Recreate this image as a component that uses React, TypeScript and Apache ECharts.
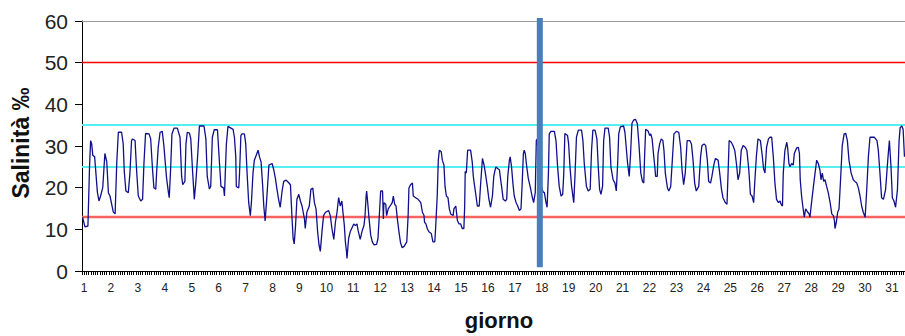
import React, { useEffect, useRef } from "react";
import * as echarts from "echarts";

// Salinity readings, [day of month, salinity ‰], grouped by stretches of days
const days01to06: [number, number][] = [
  [1.02, 12.9], [1.11, 10.6], [1.22, 10.8], [1.28, 25.0], [1.32, 31.3], [1.36, 30.5], [1.40, 27.8], [1.47, 27.4],
  [1.57, 19.0], [1.63, 16.8], [1.69, 18.0], [1.77, 20.0], [1.85, 28.2], [1.92, 26.2], [1.98, 18.8], [2.04, 18.0],
  [2.16, 14.2], [2.23, 13.7], [2.29, 25.9], [2.35, 33.3], [2.47, 33.3], [2.53, 30.5], [2.57, 23.9], [2.63, 19.2],
  [2.72, 18.8], [2.78, 23.5], [2.84, 31.3], [2.88, 31.7], [2.97, 31.3], [3.03, 23.9], [3.09, 18.0], [3.18, 16.8],
  [3.25, 17.2], [3.30, 25.8], [3.36, 33.0], [3.49, 32.9], [3.55, 31.7], [3.62, 24.3], [3.67, 20.0], [3.74, 19.6],
  [3.77, 23.5], [3.83, 29.7], [3.90, 33.3], [3.98, 33.5], [4.04, 30.1], [4.14, 22.3], [4.21, 18.8], [4.24, 17.6],
  [4.29, 24.3], [4.34, 32.9], [4.42, 34.3], [4.54, 34.3], [4.64, 32.1], [4.70, 22.7], [4.74, 20.7], [4.82, 21.5],
  [4.86, 30.5], [4.91, 33.3], [4.99, 33.1], [5.04, 31.7], [5.11, 23.5], [5.17, 17.2], [5.23, 21.5], [5.30, 28.2],
  [5.36, 34.8], [5.53, 34.8], [5.60, 31.7], [5.65, 22.7], [5.73, 19.7], [5.78, 20.3], [5.84, 32.1], [5.91, 33.9],
  [6.03, 33.9],
];

const days06to11: [number, number][] = [
  [6.11, 25.4], [6.16, 20.3], [6.26, 19.9], [6.29, 18.0], [6.36, 30.4], [6.42, 34.7], [6.53, 34.3], [6.61, 34.0],
  [6.66, 32.1], [6.71, 27.4], [6.73, 20.3], [6.82, 19.9], [6.85, 23.5], [6.90, 32.5], [6.94, 32.9], [7.03, 32.9],
  [7.08, 30.5], [7.13, 23.5], [7.19, 16.4], [7.25, 13.3], [7.29, 16.4], [7.35, 23.5], [7.40, 26.6], [7.47, 27.8],
  [7.54, 29.0], [7.59, 27.4], [7.65, 26.2], [7.71, 20.3], [7.75, 15.6], [7.80, 12.0], [7.85, 16.4], [7.89, 20.3],
  [7.94, 25.4], [8.06, 25.8], [8.12, 24.3], [8.18, 22.3], [8.24, 19.6], [8.30, 17.2], [8.36, 15.3], [8.43, 19.2],
  [8.49, 21.5], [8.58, 21.8], [8.66, 21.3], [8.74, 20.7], [8.80, 12.5], [8.84, 7.8], [8.88, 6.5], [8.93, 10.9],
  [8.98, 17.2], [9.05, 18.4], [9.11, 16.8], [9.17, 15.6], [9.26, 12.5], [9.29, 10.2], [9.35, 14.1], [9.44, 15.6],
  [9.50, 19.6], [9.57, 19.9], [9.63, 16.4], [9.69, 14.9], [9.75, 9.4], [9.80, 6.3], [9.85, 4.7], [9.91, 9.4],
  [9.97, 13.3], [10.04, 14.1], [10.16, 14.5], [10.22, 13.3], [10.28, 10.2], [10.35, 7.6], [10.41, 11.7], [10.47, 14.1],
  [10.53, 17.6], [10.59, 15.6], [10.65, 16.8], [10.69, 14.1], [10.74, 11.0], [10.78, 7.0], [10.82, 4.7], [10.84, 3.0],
  [10.90, 7.8], [10.96, 9.4], [11.09, 11.3], [11.15, 10.9], [11.21, 11.3],
];

const days11to16: [number, number][] = [
  [11.25, 9.8], [11.33, 7.6], [11.41, 9.8], [11.47, 10.9], [11.51, 13.3], [11.55, 18.0], [11.57, 19.2], [11.62, 15.6],
  [11.66, 12.5], [11.72, 8.6], [11.78, 7.0], [11.84, 6.3], [11.94, 6.4], [11.99, 7.8], [12.04, 13.3], [12.09, 19.2],
  [12.16, 19.2], [12.19, 12.5], [12.21, 16.4], [12.28, 16.0], [12.31, 13.3], [12.37, 14.9], [12.44, 15.6], [12.52, 16.4],
  [12.56, 18.0], [12.61, 16.0], [12.66, 15.6], [12.71, 12.5], [12.77, 9.4], [12.83, 6.7], [12.89, 5.6], [12.96, 5.9],
  [13.06, 7.0], [13.11, 13.3], [13.14, 19.9], [13.20, 20.7], [13.27, 21.1], [13.30, 18.0], [13.39, 17.6], [13.48, 17.2],
  [13.58, 16.4], [13.64, 14.1], [13.70, 13.3], [13.72, 11.7], [13.77, 11.3], [13.82, 10.2], [13.88, 9.4], [13.97, 9.0],
  [14.03, 7.0], [14.10, 7.0], [14.13, 10.2], [14.19, 18.0], [14.23, 26.6], [14.27, 29.0], [14.34, 28.6], [14.38, 26.6],
  [14.44, 25.4], [14.48, 20.3], [14.53, 18.0], [14.59, 17.6], [14.64, 14.9], [14.69, 13.7], [14.78, 13.3], [14.81, 14.9],
  [14.88, 15.6], [14.94, 12.1], [15.00, 11.3], [15.06, 11.3], [15.12, 10.2], [15.18, 10.2], [15.21, 15.6], [15.23, 23.9],
  [15.27, 23.5], [15.32, 29.0], [15.43, 29.0], [15.49, 26.2], [15.53, 22.7], [15.58, 20.3], [15.63, 18.0], [15.68, 15.6],
  [15.75, 15.6], [15.80, 20.7], [15.87, 27.0], [15.93, 25.4], [15.99, 23.0], [16.05, 20.3], [16.11, 17.2], [16.17, 15.3],
  [16.24, 18.0],
];

const days16to21: [number, number][] = [
  [16.29, 22.7], [16.34, 24.3], [16.37, 25.0], [16.43, 24.6], [16.50, 24.3], [16.53, 22.7], [16.58, 20.3], [16.64, 17.2],
  [16.72, 16.8], [16.77, 17.2], [16.81, 22.7], [16.87, 26.6], [16.90, 27.4], [16.95, 25.0], [17.00, 21.1], [17.05, 18.0],
  [17.12, 16.4], [17.18, 15.6], [17.24, 14.5], [17.30, 14.9], [17.34, 20.3], [17.39, 28.2], [17.42, 29.0], [17.46, 28.2],
  [17.50, 25.8], [17.57, 22.3], [17.65, 20.0], [17.71, 18.0], [17.77, 16.4], [17.83, 18.8], [17.87, 31.3], [17.90, 31.7],
  [17.97, 26.0], [18.05, 20.5], [18.12, 19.0], [18.17, 18.8], [18.23, 16.4], [18.27, 15.3], [18.32, 23.5], [18.35, 32.9],
  [18.41, 33.5], [18.54, 33.5], [18.60, 31.3], [18.66, 25.0], [18.72, 20.3], [18.79, 18.0], [18.85, 18.4], [18.89, 23.5],
  [18.93, 33.0], [19.03, 32.5], [19.07, 30.5], [19.12, 25.0], [19.18, 20.3], [19.26, 16.4], [19.31, 23.5], [19.36, 32.1],
  [19.43, 33.8], [19.55, 33.8], [19.60, 31.3], [19.65, 25.8], [19.73, 20.3], [19.80, 19.2], [19.87, 19.6], [19.92, 28.9],
  [19.97, 33.8], [20.05, 33.8], [20.12, 31.7], [20.17, 25.0], [20.22, 19.6], [20.27, 18.4], [20.33, 20.3], [20.37, 31.3],
  [20.42, 34.3], [20.54, 34.3], [20.59, 32.1], [20.64, 25.0], [20.72, 21.9], [20.79, 21.1], [20.84, 19.2], [20.89, 25.8],
  [20.93, 32.9], [20.99, 34.6], [21.11, 34.8], [21.16, 33.3], [21.26, 25.8], [21.32, 22.7],
];

const days21to26: [number, number][] = [
  [21.37, 28.0], [21.42, 35.4], [21.48, 36.2], [21.55, 36.4], [21.62, 35.4], [21.68, 30.5], [21.75, 23.5], [21.81, 21.5],
  [21.86, 21.1], [21.89, 27.4], [21.93, 34.0], [22.02, 33.6], [22.08, 32.5], [22.12, 32.9], [22.17, 31.7], [22.22, 28.2],
  [22.27, 25.0], [22.30, 22.7], [22.36, 22.7], [22.39, 28.2], [22.45, 30.5], [22.51, 31.7], [22.57, 31.3], [22.61, 28.9],
  [22.66, 23.5], [22.74, 19.9], [22.79, 19.2], [22.86, 20.3], [22.92, 26.6], [22.98, 32.9], [23.07, 33.5], [23.16, 33.3],
  [23.23, 29.7], [23.28, 24.3], [23.34, 20.7], [23.40, 23.5], [23.47, 31.3], [23.57, 31.3], [23.63, 30.5], [23.69, 26.6],
  [23.75, 21.1], [23.81, 19.2], [23.90, 20.3], [23.97, 27.4], [24.02, 30.1], [24.10, 30.5], [24.16, 30.1], [24.22, 26.6],
  [24.27, 21.5], [24.34, 21.1], [24.39, 22.7], [24.46, 25.4], [24.52, 27.0], [24.62, 26.6], [24.68, 23.5], [24.74, 19.9],
  [24.80, 17.6], [24.89, 16.4], [24.95, 16.0], [24.99, 23.5], [25.03, 31.3], [25.11, 30.9], [25.17, 30.1], [25.24, 28.9],
  [25.30, 25.8], [25.36, 21.9], [25.42, 23.5], [25.48, 29.0], [25.55, 30.1], [25.63, 29.7], [25.69, 28.9], [25.76, 24.3],
  [25.82, 18.4], [25.88, 18.0], [25.94, 16.4], [25.98, 21.1], [26.04, 27.4], [26.10, 31.7], [26.19, 31.3], [26.25, 28.2],
  [26.31, 24.5],
];

const days26to31: [number, number][] = [
  [26.36, 23.5], [26.42, 29.7], [26.49, 31.7], [26.55, 32.1], [26.61, 32.1], [26.67, 27.4], [26.73, 21.1], [26.79, 17.2],
  [26.86, 16.4], [26.92, 16.8], [26.96, 16.0], [27.01, 15.6], [27.04, 23.5], [27.10, 28.9], [27.17, 30.9], [27.20, 29.7],
  [27.25, 25.8], [27.29, 25.0], [27.35, 25.8], [27.41, 25.4], [27.45, 28.2], [27.50, 29.0], [27.55, 29.6], [27.60, 29.7],
  [27.64, 28.2], [27.67, 21.9], [27.72, 18.0], [27.77, 15.3], [27.82, 12.9], [27.87, 14.9], [27.95, 14.1], [28.00, 13.7],
  [28.03, 12.9], [28.09, 16.4], [28.16, 20.3], [28.22, 23.5], [28.28, 26.6], [28.34, 25.8], [28.40, 24.3], [28.44, 21.9],
  [28.49, 23.5], [28.54, 21.5], [28.59, 21.9], [28.65, 20.3], [28.71, 18.8], [28.78, 16.4], [28.84, 13.7], [28.90, 13.3],
  [28.94, 12.1], [28.96, 10.2], [29.01, 11.7], [29.06, 14.1], [29.11, 14.9], [29.18, 23.5], [29.23, 30.1], [29.30, 32.9],
  [29.36, 33.0], [29.42, 31.3], [29.48, 26.6], [29.56, 23.5], [29.64, 21.9], [29.70, 21.5], [29.77, 21.1], [29.83, 19.9],
  [29.89, 18.0], [29.95, 15.6], [30.01, 14.1], [30.08, 12.9], [30.14, 19.6], [30.20, 27.4], [30.26, 32.1], [30.35, 32.1],
  [30.42, 32.1], [30.47, 31.7], [30.52, 31.3], [30.57, 28.9], [30.63, 23.5], [30.69, 17.6], [30.76, 17.2], [30.84, 19.6],
  [30.92, 26.6], [30.98, 31.3], [31.04, 25.0], [31.09, 17.6], [31.15, 16.8], [31.21, 15.3], [31.28, 19.6], [31.34, 31.3],
  [31.38, 34.4], [31.44, 34.8], [31.49, 34.0], [31.54, 27.4],
];

// Reference levels (‰)
const redLimits = [50, 13];
const cyanLimits = [35, 25];
const frameTop = 60;

// Day marked by the vertical bar, and the salinity span it covers
const markerDay = 18;
const markerSpan = [60.7, 0.9];

// Axis range (days, ‰)
const dayMin = 1;
const dayMax = 31.56;
const salMin = 0;
const salMax = 60;

const FONT = "'Liberation Sans', Arial, sans-serif";

export default function App() {
  const ref = useRef<HTMLDivElement>(null);

  useEffect(() => {
    if (!ref.current) return;
    const chart = echarts.init(ref.current, undefined, { renderer: "svg" });
    const salinity = [
      ...days01to06,
      ...days06to11,
      ...days11to16,
      ...days16to21,
      ...days21to26,
      ...days26to31,
    ];

    chart.setOption({
      animation: false,
      backgroundColor: "#ffffff",
      grid: { left: 82, right: 0, top: 21, bottom: 59, containLabel: false },
      xAxis: {
        type: "value",
        min: dayMin,
        max: dayMax,
        interval: 1,
        name: "giorno",
        nameLocation: "middle",
        nameGap: 38,
        nameTextStyle: {
          fontFamily: FONT,
          fontSize: 22,
          fontWeight: "bold",
          color: "#111",
          padding: [0, 0, 0, 11],
        },
        axisLine: { show: true, onZero: false, lineStyle: { color: "#000", width: 1 } },
        axisTick: { show: true, length: 4, lineStyle: { color: "#000", width: 1 } },
        minorTick: { show: true, splitNumber: 12, length: 4, lineStyle: { color: "#000", width: 1 } },
        splitLine: { show: false },
        minorSplitLine: { show: false },
        axisLabel: {
          fontFamily: FONT,
          fontSize: 12,
          color: "#222",
          margin: 11,
          padding: [0, 0, 0, 4],
          showMaxLabel: false,
          formatter: (v: number) => String(Math.round(v)),
        },
      },
      yAxis: {
        type: "value",
        min: salMin,
        max: salMax,
        interval: 10,
        name: "Salinità ‰",
        nameLocation: "middle",
        nameGap: 50,
        nameTextStyle: {
          fontFamily: FONT,
          fontSize: 23,
          fontWeight: "bold",
          color: "#111",
          padding: [0, 0, 0, 6],
        },
        axisLine: { show: true, lineStyle: { color: "#000", width: 1 } },
        axisTick: { show: true, length: 7, lineStyle: { color: "#000", width: 1 } },
        splitLine: { show: false },
        axisLabel: {
          fontFamily: FONT,
          fontSize: 21,
          color: "#222",
          margin: 14,
        },
      },
      series: [
        {
          name: "soglie",
          type: "line",
          data: [],
          z: 1,
          silent: true,
          markLine: {
            silent: true,
            symbol: "none",
            z: 1,
            label: { show: false },
            emphasis: { disabled: true },
            data: [
              { yAxis: frameTop, lineStyle: { color: "#9a9a9a", width: 1, type: "solid" } },
              { yAxis: redLimits[0], lineStyle: { color: "#ff0000", width: 1.3, type: "solid" } },
              { yAxis: redLimits[1], lineStyle: { color: "#fa6262", width: 2.4, type: "solid" } },
              { yAxis: cyanLimits[0], lineStyle: { color: "#55eef2", width: 2, type: "solid" } },
              { yAxis: cyanLimits[1], lineStyle: { color: "#55eef2", width: 2, type: "solid" } },
            ],
          },
        },
        {
          name: "Salinità",
          type: "line",
          data: salinity,
          z: 3,
          symbol: "none",
          showSymbol: false,
          lineStyle: { color: "#10108c", width: 1.3 },
        },
        {
          name: "giorno 18",
          type: "line",
          data: [
            [markerDay, markerSpan[0]],
            [markerDay, markerSpan[1]],
          ],
          z: 4,
          clip: false,
          symbol: "none",
          showSymbol: false,
          lineStyle: { color: "#4a7ebb", width: 6, cap: "butt" },
        },
      ],
    });

    return () => chart.dispose();
  }, []);

  return (
    <div
      ref={ref}
      style={{ position: "fixed", left: 0, top: 0, width: 905, height: 336, background: "#fff" }}
    />
  );
}
